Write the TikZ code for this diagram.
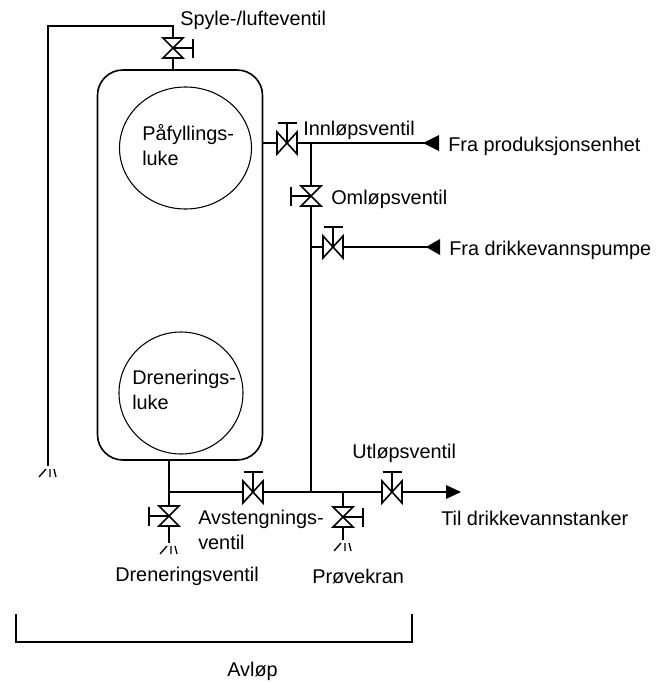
\documentclass[tikz,border=0pt]{standalone}
\usepackage{fontspec}
\setmainfont{Liberation Sans}
\usetikzlibrary{calc,shapes.geometric}
\tikzset{
  pipe/.style={line width=1.2pt},
  thickpipe/.style={line width=1.7pt},
  valvebody/.style={line width=1.2pt,fill=white,line join=miter},
  lab/.style={anchor=west,inner sep=0,font=\fontsize{14.9}{18.6}\selectfont,align=left},
  flowhead/.style={fill=black,draw=none},
}
% valve with flow along x, stem up: #1 name, #2 position
\newcommand{\hvalve}[2]{
  \coordinate (#1) at (#2);
  \coordinate (#1w) at ($(#1)+(-10,0)$);
  \coordinate (#1e) at ($(#1)+(10,0)$);
  \draw[valvebody] ($(#1)+(-10,-11)$) -- ($(#1)+(10,11)$) -- ($(#1)+(10,-11)$) -- ($(#1)+(-10,11)$) -- cycle;
  \draw[pipe] (#1) -- ++(0,-20) ++(-9.5,0) -- ++(19,0);
}
% valve with flow along y, stem to one side: #1 name, #2 position, #3 = 1 right, -1 left
\newcommand{\vvalve}[3]{
  \coordinate (#1) at (#2);
  \coordinate (#1n) at ($(#1)+(0,-10)$);
  \coordinate (#1s) at ($(#1)+(0,10)$);
  \draw[valvebody] ($(#1)+(-10,-10)$) -- ($(#1)+(10,-10)$) -- ($(#1)+(-10,10)$) -- ($(#1)+(10,10)$) -- cycle;
  \draw[pipe] (#1) -- ++(#3*20,0) ++(0,-9.5) -- ++(0,19);
}
% spray outlet below a coordinate
\newcommand{\drip}[1]{
  \draw[line width=1pt] ($(#1)+(-2,3)$) -- ++(-7,8) ($(#1)+(2,3)$) -- ++(0,8) ($(#1)+(6,3)$) -- ++(2,8);
}
\begin{document}
\begin{tikzpicture}[x=.75pt,y=-.75pt]
\useasboundingbox (0,0) rectangle (665,682);
%
\node[draw,line width=1.2pt,rounded corners=19pt,minimum width=123.75pt,minimum height=292.5pt,inner sep=0] (tank) at (180,265) {};
\node[draw,ellipse,line width=.8pt,minimum width=99pt,minimum height=91.5pt,inner sep=0] (fill) at (185.5,148) {};
\node[draw,ellipse,line width=.8pt,minimum width=93pt,minimum height=91.5pt,inner sep=0] (drain) at (181,393) {};
%
\hvalve{inn}{287,143}
\hvalve{drink}{333,247}
\hvalve{avst}{253,492}
\hvalve{utl}{392,492}
\vvalve{spyle}{173,48}{1}
\vvalve{oml}{311,196}{-1}
\vvalve{dren}{169,516}{-1}
\vvalve{prove}{343,517}{1}
%
\coordinate (top) at (173,26);
\coordinate (topl) at (48,26);
\coordinate (out) at (48,466);
\coordinate (tee) at (311,143);
\coordinate (tee2) at (311,247);
\coordinate (tee3) at (311,492);
\coordinate (tanktop) at (173,70);
\coordinate (tankin) at (262,143);
\coordinate (tankbot) at (169,460);
\coordinate (corner) at (169,492);
\coordinate (teep) at (343,492);
\coordinate (drenout) at (169,543);
\coordinate (proveout) at (343,540);
\coordinate (prodend) at (439,143);
\coordinate (drinkend) at (440,247);
\coordinate (tankend) at (446,492);
%
\draw[pipe] (tanktop) -- (spyles);
\draw[pipe] (spylen) -- (top) -- (topl) -- (out);
\draw[pipe] (tankin) -- (innw);
\draw[pipe] (inne) -- (prodend);
\draw[pipe] (tee) -- (omln);
\draw[pipe] (omls) -- (tee3);
\draw[pipe] (tee2) -- (drinkw);
\draw[pipe] (drinke) -- (drinkend);
\draw[thickpipe] (tankbot) -- (corner);
\draw[thickpipe] (corner) -- (avstw);
\draw[thickpipe] (avste) -- (utlw);
\draw[thickpipe] (utle) -- (tankend);
\draw[pipe] (corner) -- (drenn);
\draw[pipe] (drens) -- (drenout);
\draw[pipe] (teep) -- (proven);
\draw[pipe] (proves) -- (proveout);
%
\fill[flowhead] (prodend) ++(-16,0) -- ++(16,-8) -- ++(0,16) -- cycle;
\fill[flowhead] (drinkend) ++(-14,0) -- ++(14,-8) -- ++(0,16) -- cycle;
\fill[flowhead] (tankend) ++(15,0) -- ++(-15,-7) -- ++(0,14) -- cycle;
%
\drip{out}
\drip{drenout}
\drip{proveout}
%
\coordinate (brl) at (16,614);
\coordinate (brr) at (412,614);
\draw[line width=.9pt] (brl) -- (16,642) -- (412,642) -- (brr);
%
\node[lab] (spylelab) at (180,20) {Spyle-/lufteventil};
\node[lab] (filllab) at (142,145) {Påfyllings-\\luke};
\node[lab] (drainlab) at (132,390) {Drenerings-\\luke};
\node[lab] (innlab) at (303,130) {Innløpsventil};
\node[lab] (prodlab) at (448,146) {Fra produksjonsenhet};
\node[lab] (omllab) at (331,199) {Omløpsventil};
\node[lab] (drinklab) at (449,250) {Fra drikkevannspumpe};
\node[lab] (utllab) at (352,453) {Utløpsventil};
\node[lab] (tanklab) at (441,518) {Til drikkevannstanker};
\node[lab] (avstlab) at (198,530) {Avstengnings-\\ventil};
\node[lab] (drenlab) at (115,576) {Dreneringsventil};
\node[lab] (provelab) at (312,576) {Prøvekran};
\node[lab] (avloplab) at (227,671) {Avløp};
\end{tikzpicture}
\end{document}
